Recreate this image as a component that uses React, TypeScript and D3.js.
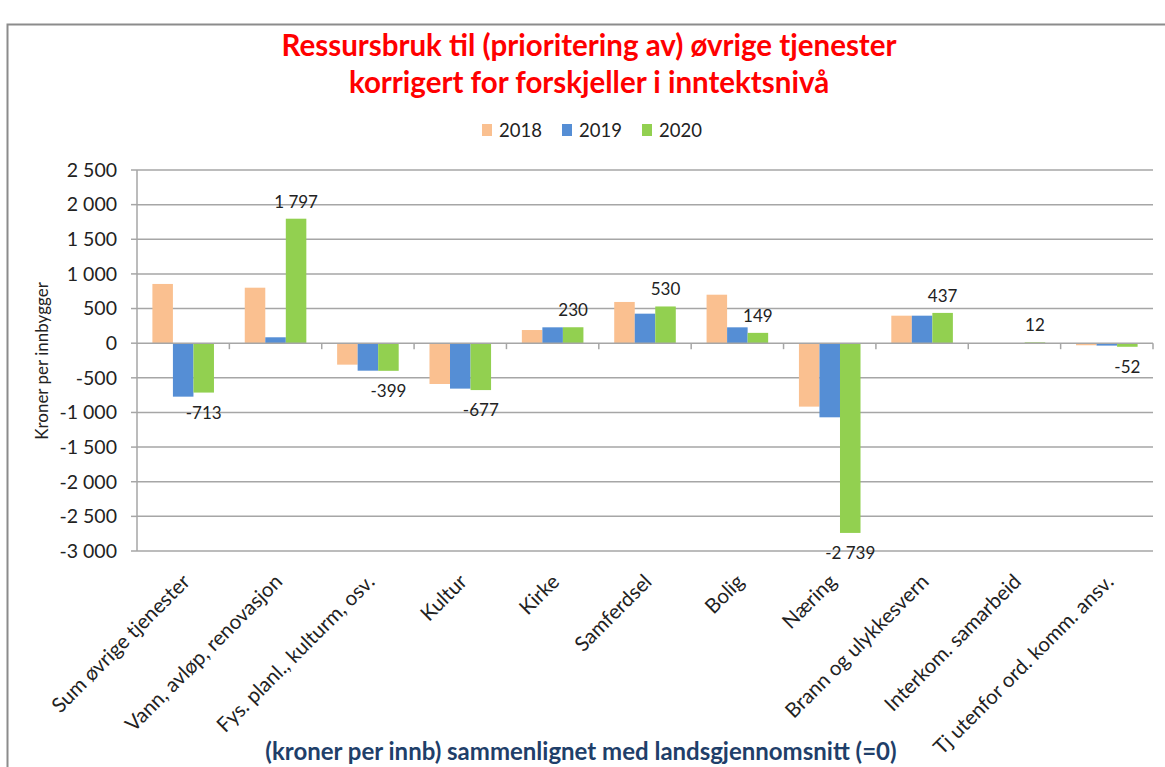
import React from "react";
import * as d3 from "d3";

const categories = [
  "Sum øvrige tjenester",
  "Vann, avløp, renovasjon",
  "Fys. planl., kulturm, osv.",
  "Kultur",
  "Kirke",
  "Samferdsel",
  "Bolig",
  "Næring",
  "Brann og ulykkesvern",
  "Interkom. samarbeid",
  "Tj utenfor ord. komm. ansv.",
];
const seriesNames = ["2018", "2019", "2020"];
const values2018 = [855, 801, -310, -589, 190, 595, 700, -916, 397, 0, -30];
const values2019 = [-772, 85, -397, -656, 229, 426, 229, -1070, 397, 0, -35];
const values2020 = [-713, 1797, -399, -677, 230, 530, 149, -2739, 437, 12, -52];
const yTicks = [2500, 2000, 1500, 1000, 500, 0, -500, -1000, -1500, -2000, -2500, -3000];
const colors = ["#FAC090", "#558ED5", "#92D050"];

const W = 1165;
const H = 767;
const plot = { left: 137, right: 1153, top: 170, bottom: 551 };
const FONT = "Lato, 'Open Sans', sans-serif";

const fmt = (v: number) => {
  const s = d3.format(",")(Math.abs(v)).replace(/,/g, " ");
  return (v < 0 ? "-" : "") + s;
};

export default function App() {
  const series = [values2018, values2019, values2020];
  const x0 = d3.scaleBand<string>().domain(categories).range([plot.left, plot.right]).paddingInner(0).paddingOuter(0);
  const bw = x0.bandwidth();
  const barW = bw / 4.5;
  const x1 = d3.scaleBand<string>().domain(seriesNames).range([barW * 0.75, barW * 3.75]).padding(0);
  const y = d3.scaleLinear().domain([-3000, 2500]).range([plot.bottom, plot.top]);
  const y0 = y(0);

  return (
    <svg width={W} height={H} style={{ position: "absolute", left: 0, top: 0, background: "#fff" }}>
      <rect x={7.5} y={24.5} width={1160} height={780} fill="#fff" stroke="#8c8c8c" strokeWidth={2} />

      {/* Title */}
      <text x={589} y={56} textAnchor="middle" fill="#FF0000" fontFamily={FONT} fontWeight="bold" fontSize={29.5}>
        Ressursbruk til (prioritering av) øvrige tjenester
      </text>
      <text x={589} y={93} textAnchor="middle" fill="#FF0000" fontFamily={FONT} fontWeight="bold" fontSize={29.5}>
        korrigert for forskjeller i inntektsnivå
      </text>

      {/* Legend */}
      {seriesNames.map((s, i) => (
        <g key={s} transform={`translate(${482 + i * 80},124)`}>
          <rect x={0} y={0} width={10} height={12} fill={colors[i]} />
          <text x={17} y={12.5} fontFamily={FONT} fontSize={18.5} fill="#222">
            {s}
          </text>
        </g>
      ))}

      {/* Gridlines */}
      {yTicks.map((t) => (
        <g key={t}>
          {t !== 0 && (
            <line x1={plot.left} x2={plot.right} y1={y(t)} y2={y(t)} stroke="#a6a6a6" strokeWidth={1.5} />
          )}
          <line x1={plot.left - 6} x2={plot.left} y1={y(t)} y2={y(t)} stroke="#a6a6a6" strokeWidth={1.5} />
          <text x={117} y={y(t)} dy="0.35em" textAnchor="end" fontFamily={FONT} fontSize={19.5} fill="#222">
            {fmt(t)}
          </text>
        </g>
      ))}
      <line x1={plot.left} x2={plot.left} y1={plot.top} y2={plot.bottom} stroke="#a6a6a6" strokeWidth={1.5} />

      {/* Bars */}
      {categories.map((c, ci) => (
        <g key={c} transform={`translate(${x0(c)},0)`}>
          {seriesNames.map((s, si) => {
            const v = series[si][ci];
            const yy = y(v);
            return (
              <rect
                key={s}
                x={x1(s)}
                y={Math.min(yy, y0)}
                width={x1.bandwidth()}
                height={Math.abs(yy - y0)}
                fill={colors[si]}
              />
            );
          })}
        </g>
      ))}

      {/* Zero axis */}
      <line x1={plot.left} x2={plot.right} y1={y0} y2={y0} stroke="#a6a6a6" strokeWidth={1.5} />
      {categories.map((c) => (
        <line key={c} x1={(x0(c) as number) + bw} x2={(x0(c) as number) + bw} y1={y0} y2={y0 + 6} stroke="#a6a6a6" strokeWidth={1.5} />
      ))}

      {/* Data labels for 2020 */}
      {categories.map((c, ci) => {
        const v = values2020[ci];
        const cx = (x0(c) as number) + (x1("2020") as number) + x1.bandwidth() / 2;
        const yy = y(v);
        return (
          <text
            key={c}
            x={cx}
            y={v >= 0 ? yy - 17 : yy + 20}
            dy="0.35em"
            textAnchor="middle"
            fontFamily={FONT}
            fontSize={17}
            fill="#222"
          >
            {fmt(v)}
          </text>
        );
      })}

      {/* Category labels */}
      {categories.map((c) => {
        const cx = (x0(c) as number) + bw / 2 + 8;
        return (
          <text
            key={c}
            transform={`translate(${cx},583) rotate(-45)`}
            textAnchor="end"
            fontFamily={FONT}
            fontSize={20.5}
            fill="#222"
          >
            {c}
          </text>
        );
      })}

      {/* Y axis title */}
      <text
        transform={`translate(48,361) rotate(-90)`}
        textAnchor="middle"
        fontFamily={FONT}
        fontSize={17}
        fill="#222"
      >
        Kroner per innbygger
      </text>

      {/* Bottom title */}
      <text x={581} y={760} textAnchor="middle" fontFamily={FONT} fontWeight="bold" fontSize={24} fill="#1F3F6A">
        (kroner per innb) sammenlignet med landsgjennomsnitt (=0)
      </text>
    </svg>
  );
}
